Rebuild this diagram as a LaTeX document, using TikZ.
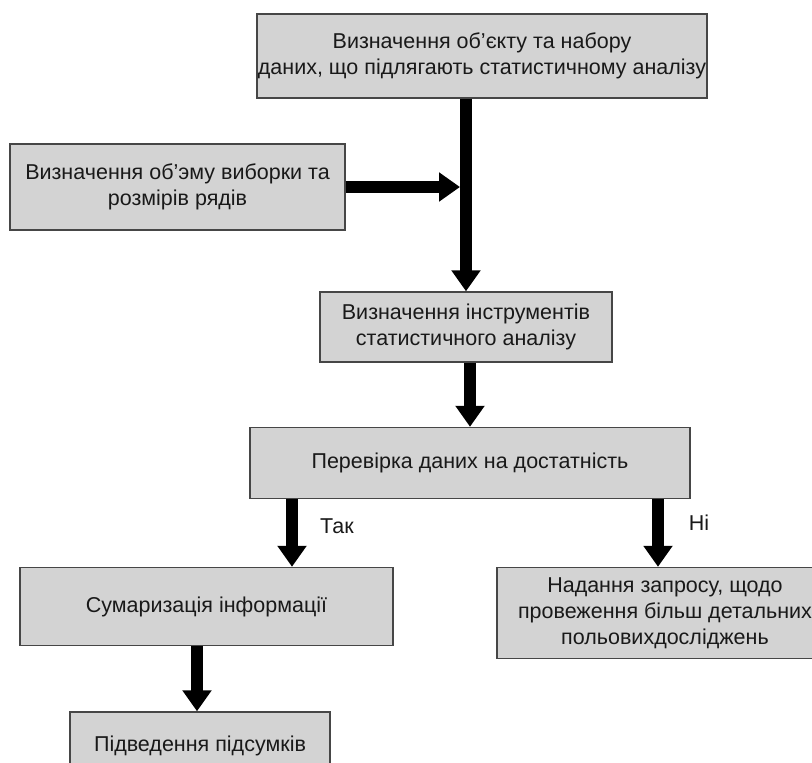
\documentclass[tikz,border=0pt]{standalone}
\usepackage{fontspec}
\setmainfont{Liberation Sans}
\usetikzlibrary{arrows.meta,positioning}

\definecolor{boxgray}{RGB}{211,211,211}
\definecolor{boxline}{RGB}{70,70,70}
\definecolor{ink}{RGB}{25,25,25}

\tikzset{
	stepbox/.style={draw=boxline, line width=1.4pt, fill=boxgray, text=ink, align=center, inner sep=0pt,
		font=\fontsize{21.5}{26}\selectfont},
	flow/.style={line width=11.5pt, -{Triangle[width=28pt,length=21pt]}},
	answer/.style={text=ink, font=\fontsize{21.5}{26}\selectfont}
}

\begin{document}
\begin{tikzpicture}[x=1pt,y=-1pt]
	\useasboundingbox (0,0) rectangle (812,763);
	
	\node[stepbox, minimum width=450pt, minimum height=84pt] (objekt) at (482,56) {Визначення об’єкту та набору\\даних, що підлягають статистичному аналізу};
	\node[stepbox, minimum width=335pt, minimum height=86pt] (vybirka) at (177.5,187) {Визначення об’эму виборки та\\розмірів рядів};
	\node[stepbox, minimum width=292pt, minimum height=70pt] (instr) at (466,327) {Визначення інструментів\\статистичного аналізу};
	\node[stepbox, minimum width=440pt, minimum height=71pt] (perevirka) at (470,463) {Перевірка даних на достатність};
	\node[stepbox, minimum width=373pt, minimum height=78pt] (sumar) at (206.5,606.5) {Сумаризація інформації};
	\node[stepbox, minimum width=336pt, minimum height=91pt] (zapyt) at (665,613) {Надання запросу, щодо\\провеження більш детальних\\польовихдосліджень};
	\node[stepbox, minimum width=260pt, minimum height=68pt] (pidsumky) at (200,746) {Підведення підсумків};
	
	\draw[flow] (instr.north |- objekt.south) -- (instr.north);
	\draw[flow, shorten >=6pt] (vybirka.east) -- (vybirka.east -| instr.north);
	\draw[flow] (perevirka.north |- instr.south) -- (perevirka.north);
	
	\draw[flow] ([xshift=-178pt]perevirka.south) coordinate (tak) -- (tak |- sumar.north);
	\draw[flow] ([xshift=188pt]perevirka.south) coordinate (ni) -- (ni |- zapyt.north);
	\node[answer] (taklabel) at (337,526) {Так};
	\node[answer] (nilabel) at (699,523) {Ні};
	
	\draw[flow] ([xshift=-9.5pt]sumar.south) coordinate (dali) -- (dali |- pidsumky.north);
\end{tikzpicture}
\end{document}
